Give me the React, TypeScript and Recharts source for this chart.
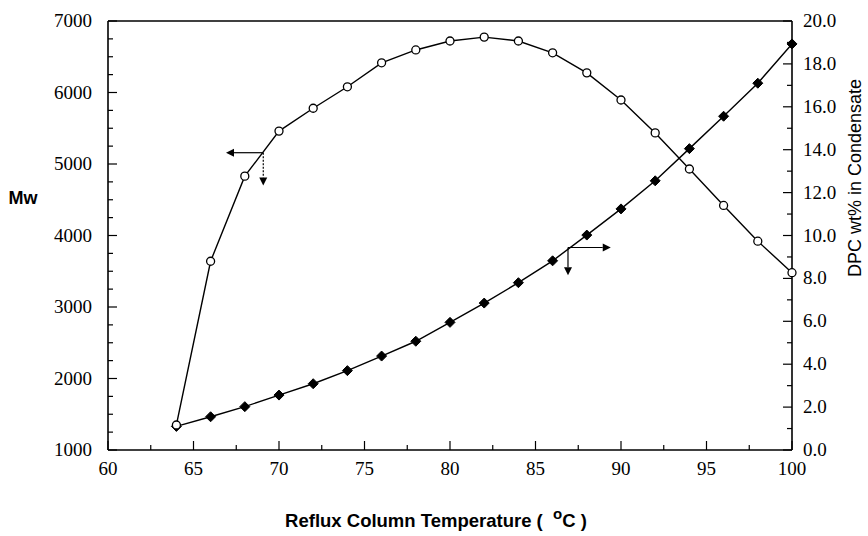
import React from 'react';
import { ComposedChart, Line, XAxis, YAxis, ReferenceLine, Label } from 'recharts';

const temperatures = [64, 66, 68, 70, 72, 74, 76, 78, 80, 82, 84, 86, 88, 90, 92, 94, 96, 98, 100];
const mwValues = [1350, 3640, 4830, 5460, 5780, 6080, 6415, 6595, 6720, 6775, 6720, 6555, 6275, 5895, 5435, 4930, 4420, 3920, 3480];
const dpcValues = [1.1, 1.55, 2.02, 2.56, 3.09, 3.7, 4.38, 5.07, 5.95, 6.85, 7.8, 8.82, 10.02, 11.24, 12.55, 14.05, 15.56, 17.1, 18.93];

const xMajorTicks = [60, 65, 70, 75, 80, 85, 90, 95, 100];
const xMinorTicks = [62.5, 67.5, 72.5, 77.5, 82.5, 87.5, 92.5, 97.5];
const mwMajorTicks = [1000, 2000, 3000, 4000, 5000, 6000, 7000];
const mwMinorTicks = [1250, 1500, 1750, 2250, 2500, 2750, 3250, 3500, 3750, 4250, 4500, 4750, 5250, 5500, 5750, 6250, 6500, 6750];
const dpcMajorTicks = [0, 2, 4, 6, 8, 10, 12, 14, 16, 18, 20];
const dpcMinorTicks = [1, 3, 5, 7, 9, 11, 13, 15, 17, 19];

// annotation arrows (data units): [corner, tip]
const mwArrowLeft = [{ x: 69.08, y: 5158 }, { x: 66.9, y: 5158 }];
const mwArrowDown = [{ x: 69.08, y: 5158 }, { x: 69.08, y: 4700 }];
const dpcArrowRight = [{ x: 86.9, y: 9.44 }, { x: 89.4, y: 9.44 }];
const dpcArrowDown = [{ x: 86.9, y: 9.44 }, { x: 86.9, y: 8.15 }];

const data = temperatures.map((t, i) => ({ t, mw: mwValues[i], dpc: dpcValues[i] }));

const serif = '"Liberation Serif", "Times New Roman", serif';
const sans = '"Liberation Sans", Arial, sans-serif';

const XTick = (props: any) => {
  const { x, y, payload } = props;
  const major = xMajorTicks.includes(payload.value);
  return (
    <g>
      <line x1={x} y1={y} x2={x} y2={y - (major ? 9 : 5)} stroke="#000" strokeWidth={1.2} />
      {major && (
        <text x={x} y={y + 25} textAnchor="middle" fontFamily={serif} fontSize={19} fill="#000">
          {payload.value}
        </text>
      )}
    </g>
  );
};

const LeftTick = (props: any) => {
  const { x, y, payload } = props;
  const major = mwMajorTicks.includes(payload.value);
  return (
    <g>
      <line x1={x} y1={y} x2={x + (major ? 9 : 5)} y2={y} stroke="#000" strokeWidth={1.2} />
      {major && (
        <text x={x - 16} y={y + 6} textAnchor="end" fontFamily={serif} fontSize={19} fill="#000">
          {payload.value}
        </text>
      )}
    </g>
  );
};

const RightTick = (props: any) => {
  const { x, y, payload } = props;
  const major = dpcMajorTicks.includes(payload.value);
  return (
    <g>
      <line x1={x} y1={y} x2={x - (major ? 9 : 5)} y2={y} stroke="#000" strokeWidth={1.2} />
      {major && (
        <text x={x + 11} y={y + 6} textAnchor="start" fontFamily={serif} fontSize={19} fill="#000">
          {payload.value.toFixed(1)}
        </text>
      )}
    </g>
  );
};

const Diamond = (props: any) => {
  const { cx, cy, index } = props;
  if (cx == null || cy == null) return <g key={index} />;
  const s = 5;
  return (
    <polygon
      key={index}
      points={`${cx},${cy - s} ${cx + s},${cy} ${cx},${cy + s} ${cx - s},${cy}`}
      fill="#000"
      stroke="#000"
    />
  );
};

const arrowShape = (dashed: boolean) => (props: any) => {
  const { x1, y1, x2, y2 } = props;
  const ang = Math.atan2(y2 - y1, x2 - x1);
  const len = 8;
  const w = 4;
  const bx = x2 - len * Math.cos(ang);
  const by = y2 - len * Math.sin(ang);
  const px = -Math.sin(ang) * w;
  const py = Math.cos(ang) * w;
  return (
    <g>
      <line x1={x1} y1={y1} x2={bx} y2={by} stroke="#000" strokeWidth={1.2} strokeDasharray={dashed ? '2 1.5' : undefined} />
      <polygon points={`${x2},${y2} ${bx + px},${by + py} ${bx - px},${by - py}`} fill="#000" />
    </g>
  );
};

export default function App() {
  return (
    <div style={{ position: 'absolute', left: 0, top: 0, background: '#fff' }}>
      <ComposedChart width={868} height={536} data={data} margin={{ top: 21, right: 0, bottom: 0, left: 0 }}>
        <XAxis
          dataKey="t"
          type="number"
          domain={[60, 100]}
          ticks={[...xMajorTicks, ...xMinorTicks]}
          interval={0}
          tickSize={0}
          tickMargin={0}
          tickLine={false}
          tick={<XTick />}
          height={86}
          axisLine={{ stroke: '#000', strokeWidth: 1.6 }}
        >
          <Label
            content={() => (
              <text x={436} y={527} textAnchor="middle" fontFamily={sans} fontWeight="bold" fontSize={18.5} fill="#000" style={{ whiteSpace: 'pre' }}>
                {'Reflux Column Temperature (  '}
                <tspan dy={-8} fontSize={15}>o</tspan>
                <tspan dy={8}>{'C )'}</tspan>
              </text>
            )}
          />
        </XAxis>
        <YAxis
          yAxisId="left"
          orientation="left"
          type="number"
          domain={[1000, 7000]}
          ticks={[...mwMajorTicks, ...mwMinorTicks]}
          interval={0}
          tickSize={0}
          tickMargin={0}
          tickLine={false}
          tick={<LeftTick />}
          width={108}
          axisLine={{ stroke: '#000', strokeWidth: 1.6 }}
        >
          <Label
            content={() => (
              <text x={23} y={204} textAnchor="middle" fontFamily={sans} fontWeight="bold" fontSize={18} fill="#000">
                Mw
              </text>
            )}
          />
        </YAxis>
        <YAxis
          yAxisId="right"
          orientation="right"
          type="number"
          domain={[0, 20]}
          ticks={[...dpcMajorTicks, ...dpcMinorTicks]}
          interval={0}
          tickSize={0}
          tickMargin={0}
          tickLine={false}
          tick={<RightTick />}
          width={76}
          axisLine={{ stroke: '#000', strokeWidth: 1.6 }}
        >
          <Label
            content={() => (
              <text x={861} y={178} transform="rotate(-90 861 178)" textAnchor="middle" fontFamily={sans} fontSize={18} fill="#000">
                DPC wt% in Condensate
              </text>
            )}
          />
        </YAxis>
        <ReferenceLine yAxisId="left" y={7000} stroke="#000" strokeWidth={1.6} />
        <ReferenceLine yAxisId="left" segment={mwArrowLeft} shape={arrowShape(false)} />
        <ReferenceLine yAxisId="left" segment={mwArrowDown} shape={arrowShape(true)} />
        <ReferenceLine yAxisId="right" segment={dpcArrowRight} shape={arrowShape(false)} />
        <ReferenceLine yAxisId="right" segment={dpcArrowDown} shape={arrowShape(false)} />
        <Line
          yAxisId="right"
          dataKey="dpc"
          type="linear"
          stroke="#000"
          strokeWidth={1.4}
          dot={<Diamond />}
          isAnimationActive={false}
        />
        <Line
          yAxisId="left"
          dataKey="mw"
          type="linear"
          stroke="#000"
          strokeWidth={1.4}
          dot={{ r: 4, fill: '#fff', stroke: '#000', strokeWidth: 1.3 }}
          isAnimationActive={false}
        />
      </ComposedChart>
    </div>
  );
}
